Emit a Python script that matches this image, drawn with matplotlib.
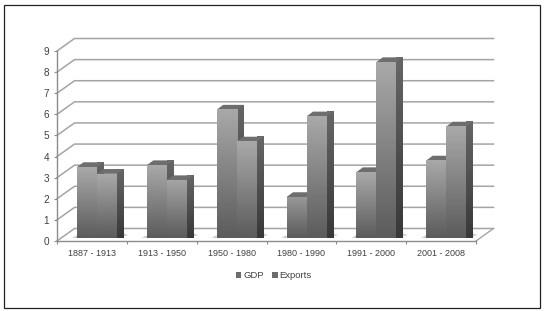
#!/usr/bin/env python3
"""GDP and exports growth by period, drawn as a faux 3D column chart."""

import numpy as np
import matplotlib
matplotlib.use("Agg")
import matplotlib.pyplot as plt
from matplotlib.patches import Patch, Polygon, Rectangle

periods = ["1887 - 1913", "1913 - 1950", "1950 - 1980",
           "1980 - 1990", "1991 - 2000", "2001 - 2008"]
gdp = [3.35, 3.44, 6.07, 1.93, 3.11, 3.66]
exports = [3.03, 2.73, 4.56, 5.75, 8.32, 5.27]
y_ticks = list(range(10))

W, H = 544, 311
LEFT, RIGHT, BOTTOM, TOP = 57, 476, 241, 51
PX_X = (RIGHT - LEFT) / len(periods)
PX_Y = (BOTTOM - TOP) / 9

plt.rcParams["font.family"] = ["Liberation Sans", "DejaVu Sans"]
TEXT = "#404040"
GRID = "#a4a4a4"

# depth of the chart box and of each column, converted to data units
BOX_DX, BOX_DY = 17.5 / PX_X, 12.5 / PX_Y
COL_DX, COL_DY = 6.5 / PX_X, 4.8 / PX_Y
BASE = 3.2 / PX_Y
MARGIN = 20 / PX_X
BAR_W = 20 / PX_X


def gradient(ax, x0, x1, y0, y1, top, bottom, clip=None, zorder=3):
    """Vertical grey gradient; optionally clipped to a polygon."""
    vals = np.linspace(top, bottom, 64).reshape(-1, 1)
    im = ax.imshow(vals, extent=(x0, x1, y0, y1), origin="upper", cmap="gray",
                   vmin=0, vmax=1, aspect="auto", zorder=zorder,
                   interpolation="bilinear", clip_on=False)
    if clip is not None:
        clip.set_transform(ax.transData)
        im.set_clip_path(clip)
    return im


def shadow(ax, x):
    # soft patches on the floor on either side of a pair of columns
    left = Polygon([(x, BASE), (x, BASE + 2.5 / PX_Y), (x - 5 / PX_X, BASE)],
                   fc="#c4c4c4", ec="none", zorder=2, clip_on=False)
    right_x = x + 2 * BAR_W
    right = Polygon([(right_x, BASE), (right_x + COL_DX + 5 / PX_X, BASE + 2.5 / PX_Y),
                     (right_x + COL_DX, BASE + COL_DY)],
                    fc="#d2d2d2", ec="none", zorder=2, clip_on=False)
    ax.add_patch(left)
    ax.add_patch(right)


def column(ax, x, val, z):
    y0 = BASE
    y1 = BASE + val
    # right side
    side = Polygon([(x + BAR_W, y0), (x + BAR_W + COL_DX, y0 + COL_DY),
                    (x + BAR_W + COL_DX, y1 + COL_DY), (x + BAR_W, y1)],
                   closed=True, fc="none", ec="none")
    gradient(ax, x + BAR_W, x + BAR_W + COL_DX, y0, y1 + COL_DY,
             0.40, 0.22, clip=side, zorder=z)
    # top face
    ax.add_patch(Polygon([(x, y1), (x + BAR_W, y1),
                          (x + BAR_W + COL_DX, y1 + COL_DY), (x + COL_DX, y1 + COL_DY)],
                         fc="#6e6e6e", ec="none", zorder=z, clip_on=False))
    # front
    frac = min(val / 3.0, 1.0)
    gradient(ax, x, x + BAR_W, y0, y1, 0.47 + 0.19 * frac, 0.36, zorder=z + 0.1)


fig = plt.figure(figsize=(W / 100, H / 100), dpi=100)
ax = fig.add_axes([LEFT / W, 1 - BOTTOM / H, (RIGHT - LEFT) / W, (BOTTOM - TOP) / H])
ax.set_xlim(0, len(periods))
ax.set_ylim(0, 9)
for s in ("top", "right"):
    ax.spines[s].set_visible(False)
for s in ("left", "bottom"):
    ax.spines[s].set_color("#8c8c8c")
    ax.spines[s].set_linewidth(1.0)
    ax.spines[s].set_zorder(1.5)

n = len(periods)
for v in y_ticks:
    ax.plot([0, BOX_DX, n + BOX_DX], [v, v + BOX_DY, v + BOX_DY],
            color=GRID, lw=1.1, zorder=1, clip_on=False, solid_joinstyle="miter")
ax.plot([n, n + BOX_DX], [0, BOX_DY], color=GRID, lw=1.0, zorder=1, clip_on=False)

for i in range(n):
    x = i + MARGIN
    shadow(ax, x)
    column(ax, x, gdp[i], 3 + i * 0.5)
    column(ax, x + BAR_W, exports[i], 3.2 + i * 0.5)

ax.set_yticks(y_ticks)
ax.set_xticks(range(n + 1))
ax.set_xticklabels([])
ax.set_xticks(np.arange(n) + 0.5, labels=periods, minor=True)
ax.tick_params(axis="y", length=2.5, width=0.8, color="#8c8c8c",
               labelsize=7.2, labelcolor=TEXT, pad=3)
ax.tick_params(axis="x", which="major", length=2, width=0.8, color="#8c8c8c")
ax.tick_params(axis="x", which="minor", length=0, labelsize=6.5, labelcolor=TEXT, pad=5.5)

handles = [Patch(fc="#6c6c6c", ec="none", label="GDP"),
           Patch(fc="#6c6c6c", ec="none", label="Exports")]
fig.legend(handles=handles, loc="center", bbox_to_anchor=(274 / W, 1 - 276 / H),
           ncol=2, frameon=False, fontsize=6.8, labelcolor=TEXT,
           handlelength=0.55, handleheight=0.55, handletextpad=0.2,
           columnspacing=0.9, borderpad=0)

# outer frame of the picture
fig.add_artist(Rectangle((3.5 / W, 1 - 308 / H), 536 / W, 303.5 / H,
                         transform=fig.transFigure, fc="none", ec="#222222", lw=0.9))

fig.savefig("out.png", dpi=100)
